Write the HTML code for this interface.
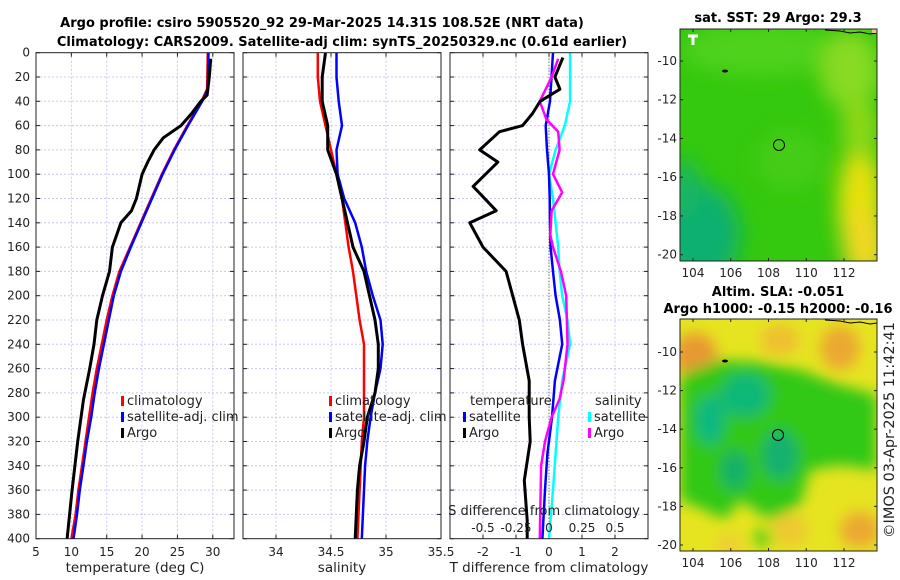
<!DOCTYPE html>
<html><head><meta charset="utf-8"><style>
html,body{margin:0;padding:0;background:#fff;}
svg{display:block;font-family:"DejaVu Sans","Liberation Sans",sans-serif;}
</style></head><body>
<svg id="c" width="900" height="580" viewBox="0 0 900 580" xmlns="http://www.w3.org/2000/svg">
<defs>
<filter id="bl1" x="-30%" y="-30%" width="160%" height="160%"><feGaussianBlur stdDeviation="10"/></filter>
<filter id="bl2" x="-20%" y="-20%" width="140%" height="140%"><feGaussianBlur stdDeviation="7"/></filter>
<clipPath id="cm1"><rect x="680" y="29" width="197" height="232"/></clipPath>
<clipPath id="cm2"><rect x="680" y="319" width="197" height="232"/></clipPath>
</defs>
<text x="322" y="27" text-anchor="middle" font-size="13" font-weight="bold">Argo profile: csiro 5905520_92 29-Mar-2025 14.31S 108.52E (NRT data)</text>
<text x="342" y="46" text-anchor="middle" font-size="13" font-weight="bold">Climatology: CARS2009. Satellite-adj clim: synTS_20250329.nc (0.61d earlier)</text>
<g id="plots"></g>
<!-- map 1 -->
<g clip-path="url(#cm1)">
<rect x="680" y="29" width="197" height="232" fill="#34c80e"/>
<g filter="url(#bl1)">
<ellipse cx="760" cy="50" rx="80" ry="25" fill="#50d21a"/>
<ellipse cx="850" cy="70" rx="30" ry="40" fill="#88da20"/>
<ellipse cx="700" cy="235" rx="40" ry="50" fill="#10b070"/>
<ellipse cx="685" cy="190" rx="15" ry="30" fill="#18b468"/>
<ellipse cx="860" cy="205" rx="22" ry="60" fill="#e8e010"/>
<ellipse cx="865" cy="245" rx="22" ry="35" fill="#f0d820"/>
<ellipse cx="860" cy="130" rx="18" ry="30" fill="#90d818"/>
<ellipse cx="790" cy="160" rx="35" ry="30" fill="#44cc16"/>
</g>
<path d="M825 30 L840 31 L850 33 L860 32 L870 34 L877 33" stroke="#000" fill="none" stroke-width="1"/>
<rect x="872" y="29" width="5" height="4" fill="#f0c090"/>
<path d="M688 36 h10 M693 36 v9" stroke="#fff" stroke-width="3"/>
<ellipse cx="725" cy="71" rx="3" ry="1.5" fill="#000"/>
<circle cx="779" cy="145" r="5.5" fill="none" stroke="#000" stroke-width="1"/>
</g>
<rect x="680" y="29" width="197" height="232" fill="none" stroke="#222" stroke-width="1"/>
<text x="778" y="22" text-anchor="middle" font-size="13" font-weight="bold">sat. SST: 29 Argo: 29.3</text>
<!-- map 2 -->
<g clip-path="url(#cm2)">
<rect x="680" y="319" width="197" height="232" fill="#e6e420"/>
<g filter="url(#bl2)">
<ellipse cx="695" cy="355" rx="22" ry="22" fill="#e89830"/>
<ellipse cx="840" cy="348" rx="20" ry="22" fill="#eba830"/>
<ellipse cx="780" cy="340" rx="20" ry="15" fill="#eec030"/>
<ellipse cx="860" cy="530" rx="20" ry="18" fill="#eca830"/>
<ellipse cx="790" cy="530" rx="18" ry="16" fill="#eec830"/>
<ellipse cx="730" cy="545" rx="15" ry="12" fill="#eed030"/>
<path d="M680 375 L720 360 L760 362 L800 370 L840 385 L877 395 L877 470 L840 465 L810 470 L800 505 L770 520 L740 500 L725 520 L705 510 L680 500 Z" fill="#30c818"/>
<ellipse cx="745" cy="395" rx="25" ry="22" fill="#10b878"/>
<ellipse cx="710" cy="420" rx="15" ry="25" fill="#10b880"/>
<ellipse cx="780" cy="455" rx="18" ry="25" fill="#18b070"/>
<ellipse cx="735" cy="470" rx="15" ry="20" fill="#18b068"/>
<ellipse cx="762" cy="538" rx="9" ry="9" fill="#50d010"/>
</g>
<path d="M825 320 L840 321 L850 323 L860 322 L870 324 L877 323" stroke="#000" fill="none" stroke-width="1"/>
<ellipse cx="725" cy="361" rx="3" ry="1.5" fill="#000"/>
<circle cx="778" cy="435" r="5.5" fill="none" stroke="#000" stroke-width="1"/>
</g>
<rect x="680" y="319" width="197" height="232" fill="none" stroke="#222" stroke-width="1"/>
<text x="778" y="296" text-anchor="middle" font-size="13" font-weight="bold">Altim. SLA: -0.051</text>
<text x="778" y="313" text-anchor="middle" font-size="13" font-weight="bold">Argo h1000: -0.15 h2000: -0.16</text>
<text transform="translate(894,430) rotate(-90)" text-anchor="middle" font-size="14.5" fill="#222">©IMOS 03-Apr-2025 11:42:41</text>
<g id="maps-axes"></g>
</svg>
<script>
// ---- data ----
var depthTicks = [0,20,40,60,80,100,120,140,160,180,200,220,240,260,280,300,320,340,360,380,400];
var clDepth = [0,30,40,60,80,100,120,140,160,180,200,220,240,260,280,300,320,340,360,380,400];
var tClim = [29.3,29.2,28.4,26.4,24.5,22.8,21.3,19.8,18.3,16.8,15.8,15.0,14.3,13.6,13.0,12.5,12.0,11.5,11.0,10.6,10.0];
var tSat  = [29.4,29.3,28.5,26.5,24.6,22.9,21.4,19.9,18.4,17.0,16.0,15.3,14.6,13.9,13.3,12.8,12.2,11.7,11.2,10.8,10.3];
var argoDepth = [5,20,35,40,50,60,70,80,90,100,120,130,140,160,180,200,220,240,260,286,320,360,400];
var tArgo = [29.7,29.5,29.2,28.3,27.0,25.5,23.0,21.7,20.8,20.0,19.2,18.5,17.0,15.8,15.4,14.4,13.6,13.2,12.6,11.7,10.9,10.1,9.4];
var sDepth = [0,20,40,60,80,100,120,140,160,180,200,220,240,260,280,300,320,340,360,380,400];
var sClim = [34.38,34.38,34.4,34.45,34.5,34.55,34.6,34.63,34.66,34.7,34.73,34.76,34.8,34.8,34.8,34.8,34.78,34.77,34.76,34.75,34.74];
var sSat  = [34.55,34.55,34.57,34.6,34.55,34.56,34.62,34.72,34.78,34.82,34.88,34.95,34.97,34.95,34.9,34.86,34.83,34.81,34.8,34.79,34.78];
var sArgo = [34.45,34.42,34.42,34.47,34.47,34.55,34.6,34.65,34.7,34.8,34.85,34.9,34.93,34.93,34.9,34.83,34.8,34.76,34.74,34.73,34.72];
var dtDepth = [4,20,30,40,50,60,65,80,90,110,130,140,160,180,200,220,240,270,300,320,352,385,400];
var dtArgo = [0.42,0.18,0.33,-0.27,-0.5,-0.8,-1.5,-2.1,-1.55,-2.3,-1.6,-2.4,-2.0,-1.3,-1.1,-0.9,-0.8,-0.6,-0.6,-0.57,-0.75,-0.66,-0.66];
var dDepth = [0,40,60,80,100,120,140,160,180,200,220,240,270,300,330,360,400];
var dtSat = [0.12,0.03,-0.1,-0.06,0,0.02,0.03,0.05,0.12,0.2,0.33,0.4,0.18,0.09,-0.05,-0.12,-0.2];
var dsSat = [0.16,0.16,0.12,0.05,0,0.03,0.05,0.07,0.08,0.1,0.14,0.16,0.1,0.07,0.05,0.03,0];
var dsDepth = [5,20,40,55,65,80,100,115,130,150,160,180,200,240,270,285,300,320,340,400];
var dsArgo = [0.07,0.02,-0.07,-0.02,0.07,0.08,0.03,0.1,0.02,0.01,0.03,0.09,0.13,0.14,0.11,0.08,0.02,-0.03,-0.06,-0.07];
var tTicks = [5,10,15,20,25,30];
var sTicks = [34,34.5,35,35.5];
var dtTicks = [-2,-1,0,1,2];
var dsTicks = [-0.5,-0.25,0,0.25,0.5];
var dsTickLabels = ['-0.5','-0.25','0','0.25','0.5'];
var lonTicks = [104,106,108,110,112];
var latTicks = [-10,-12,-14,-16,-18,-20];

var NS='http://www.w3.org/2000/svg';
var root=document.getElementById('plots');
function mk(tag,attrs,parent){var e=document.createElementNS(NS,tag);for(var k in attrs)e.setAttribute(k,attrs[k]);(parent||root).appendChild(e);return e;}
function yD(d){return 52.7+1.215*d;}
var P1={x0:36,x1:234,lo:5,hi:33}, P2={x0:243,x1:441,lo:33.7,hi:35.5}, P3={x0:450,x1:648,lo:-3,hi:3};
function sx(P,v){return P.x0+(v-P.lo)/(P.hi-P.lo)*(P.x1-P.x0);}
function sxS(v){return 549+v*132;}
function line(xs,ds,fx,color,w,name){
  var p='';for(var i=0;i<xs.length;i++){p+=(i?'L':'M')+fx(xs[i]).toFixed(1)+' '+yD(ds[i]).toFixed(1);}
  var e=mk('path',{d:p,fill:'none',stroke:color,'stroke-width':w,'stroke-linejoin':'round'});
  
  
}
function txt(x,y,s,opt){var e=mk('text',Object.assign({x:x,y:y,'font-size':12,fill:'#222'},opt||{}));e.textContent=s;return e;}
var panels=[P1,P2,P3];
panels.forEach(function(P,pi){
  depthTicks.forEach(function(d){
    if(d>0&&d<400){var g=mk('line',{x1:P.x0,x2:P.x1,y1:yD(d),y2:yD(d),stroke:'#c8c8ee','stroke-width':1,'stroke-dasharray':'2,2'});
    
    }
    mk('line',{x1:P.x0,x2:P.x0+4,y1:yD(d),y2:yD(d),stroke:'#222'});
    mk('line',{x1:P.x1-4,x2:P.x1,y1:yD(d),y2:yD(d),stroke:'#222'});
  });
});
tTicks.forEach(function(v){var x=sx(P1,v);if(v>5&&v<33){var g=mk('line',{x1:x,x2:x,y1:yD(0),y2:yD(400),stroke:'#c8c8ee','stroke-dasharray':'2,2'});}
  mk('line',{x1:x,x2:x,y1:yD(400),y2:yD(400)-4,stroke:'#222'});mk('line',{x1:x,x2:x,y1:yD(0),y2:yD(0)+4,stroke:'#222'});
  var t=txt(x,556,String(v),{'text-anchor':'middle'});});
sTicks.forEach(function(v){var x=sx(P2,v);if(v<35.5){var g=mk('line',{x1:x,x2:x,y1:yD(0),y2:yD(400),stroke:'#c8c8ee','stroke-dasharray':'2,2'});}
  mk('line',{x1:x,x2:x,y1:yD(400),y2:yD(400)-4,stroke:'#222'});mk('line',{x1:x,x2:x,y1:yD(0),y2:yD(0)+4,stroke:'#222'});
  var t=txt(x,556,String(v),{'text-anchor':'middle'});});
dtTicks.forEach(function(v){var x=sx(P3,v);var g=mk('line',{x1:x,x2:x,y1:yD(0),y2:yD(400),stroke:'#c8c8ee','stroke-dasharray':'2,2'});
  mk('line',{x1:x,x2:x,y1:yD(400),y2:yD(400)-4,stroke:'#222'});mk('line',{x1:x,x2:x,y1:yD(0),y2:yD(0)+4,stroke:'#222'});
  var t=txt(x,556,String(v),{'text-anchor':'middle'});});
var z=mk('line',{x1:549,x2:549,y1:yD(0),y2:yD(400),stroke:'#445522','stroke-width':1,'stroke-dasharray':'1,2'});


depthTicks.forEach(function(d){var t=txt(30,yD(d)+4,String(d),{'text-anchor':'end'});});
line(tClim,clDepth,function(v){return sx(P1,v);},'#ff0000',2.5,'temp-climatology-line');
line(tSat,clDepth,function(v){return sx(P1,v);},'#0000ff',2.5,'temp-satellite-line');
line(tArgo,argoDepth,function(v){return sx(P1,v);},'#000000',3,'temp-argo-line');
line(sClim,sDepth,function(v){return sx(P2,v);},'#ff0000',2.5,'sal-climatology-line');
line(sSat,sDepth,function(v){return sx(P2,v);},'#0000ff',2.5,'sal-satellite-line');
line(sArgo,sDepth,function(v){return sx(P2,v);},'#000000',3,'sal-argo-line');
line(dsSat,dDepth,sxS,'#00ffff',2.5,'sdiff-satellite-line');
line(dtSat,dDepth,function(v){return sx(P3,v);},'#0000ff',2.5,'tdiff-satellite-line');
line(dsArgo,dsDepth,sxS,'#ff00ff',2.5,'sdiff-argo-line');
line(dtArgo,dtDepth,function(v){return sx(P3,v);},'#000000',3,'tdiff-argo-line');
panels.forEach(function(P){var f=mk('rect',{x:P.x0,y:yD(0),width:P.x1-P.x0,height:yD(400)-yD(0),fill:'none',stroke:'#222','stroke-width':1});});
function leg(x,y,c,s,name){var m=mk('rect',{x:x,y:y-9,width:3,height:10,fill:c});
  var t=txt(x+6,y,s,{'font-size':13});}
leg(121,405,'#ff0000','climatology','legend-climatology');
leg(121,421,'#0000ff','satellite-adj. clim','legend-satellite-adj');
leg(121,437,'#000000','Argo','legend-argo');
leg(329,405,'#ff0000','climatology','legend2-climatology');
leg(329,421,'#0000ff','satellite-adj. clim','legend2-satellite-adj');
leg(329,437,'#000000','Argo','legend2-argo');
var t=txt(470,405,'temperature',{'font-size':13});
t=txt(595,405,'salinity',{'font-size':13});
leg(463,421,'#0000ff','satellite','legend-tdiff-satellite');
leg(463,437,'#000000','Argo','legend-tdiff-argo');
leg(588,421,'#00ffff','satellite','legend-sdiff-satellite');
leg(588,437,'#ff00ff','Argo','legend-sdiff-argo');
t=txt(544,515,'S difference from climatology',{'font-size':13,'text-anchor':'middle'});
dsTicks.forEach(function(v,i){var e=txt(sxS(v),532,dsTickLabels[i],{'font-size':12,'text-anchor':'middle'});});
t=txt(135,572,'temperature (deg C)',{'font-size':13.5,'text-anchor':'middle'});
t=txt(342,572,'salinity',{'font-size':13.5,'text-anchor':'middle'});
t=txt(549,572,'T difference from climatology',{'font-size':13.5,'text-anchor':'middle'});
var ma=document.getElementById('maps-axes');
function lonX(l){return 693+(l-104)*(151/8);}
[{top:29,bot:261,lat10:61,lat20:254.7},{top:319,bot:551,lat10:352,lat20:545}].forEach(function(M,mi){
  lonTicks.forEach(function(l){var x=lonX(l);mk('line',{x1:x,x2:x,y1:M.bot,y2:M.bot-3,stroke:'#222'},ma);mk('line',{x1:x,x2:x,y1:M.top,y2:M.top+3,stroke:'#222'},ma);
    var e=mk('text',{x:x,y:M.bot+16,'font-size':12,fill:'#222','text-anchor':'middle'},ma);e.textContent=String(l);
    
    });
  latTicks.forEach(function(la){var y=M.lat10+(-10-la)/10*(M.lat20-M.lat10);mk('line',{x1:877,x2:874,y1:y,y2:y,stroke:'#222'},ma);mk('line',{x1:680,x2:683,y1:y,y2:y,stroke:'#222'},ma);
    var e=mk('text',{x:677,y:y+4,'font-size':12,fill:'#222','text-anchor':'end'},ma);e.textContent=String(la);
    
    });
});
</script>
</body></html>
